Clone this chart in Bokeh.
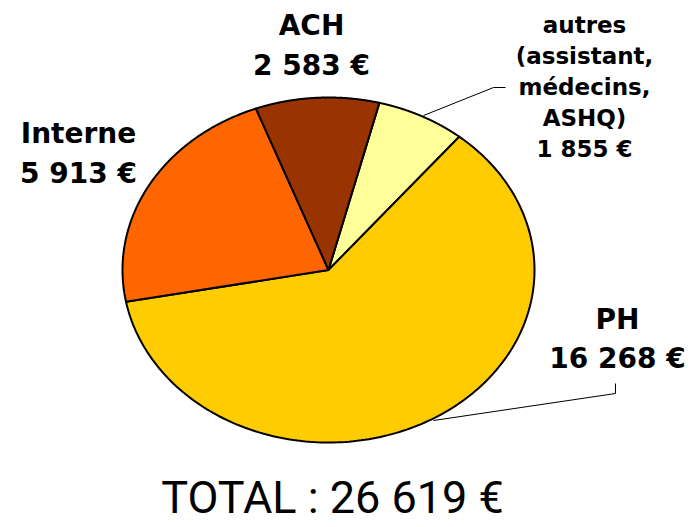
import numpy as np
from bokeh.plotting import figure
from bokeh.models import Range1d
from bokeh.core.properties import value
from bokeh.embed import file_html
from bokeh.resources import INLINE

# ---- data ----
categories = ["autres", "PH", "Interne", "ACH"]
amounts = [1855, 16268, 5913, 2583]
colors = ["#FFFF99", "#FFCC00", "#FF6600", "#993300"]
label_lines = {
    "ACH": ["ACH", "2 583 €"],
    "autres": ["autres", "(assistant,", "médecins,", "ASHQ)", "1 855 €"],
    "Interne": ["Interne", "5 913 €"],
    "PH": ["PH", "16 268 €"],
}
total_label = "TOTAL : 26 619 €"

# ---- layout (screen-pixel data space) ----
W, H = 692, 527
p = figure(width=W, height=H, output_backend="svg", toolbar_location=None,
           x_range=Range1d(0, W), y_range=Range1d(H, 0),
           min_border=0, outline_line_color=None)
p.axis.visible = False
p.grid.visible = False
p.background_fill_color = "white"

cx, cy, rx, ry = 328, 269.5, 206, 172.5
start_deg = 14.3  # clockwise from 12 o'clock

vals = np.array(amounts, dtype=float)
fr = vals / vals.sum()
bounds = start_deg + 360 * np.concatenate([[0], np.cumsum(fr)])
xs, ys = [], []
for i in range(len(vals)):
    a = np.radians(np.linspace(bounds[i], bounds[i + 1], 200))
    xs.append(np.concatenate([[cx], cx + rx * np.sin(a)]).tolist())
    ys.append(np.concatenate([[cy], cy - ry * np.cos(a)]).tolist())
p.patches(xs, ys, fill_color=colors, line_color="black", line_width=2)

bold = value("DejaVu Sans")
def draw_label(lines, x, y0, dy, size):
    p.text(x=[x] * len(lines), y=[y0 + dy * k for k in range(len(lines))], text=lines,
           text_font=bold, text_font_style="bold", text_font_size=size,
           text_align="center", text_baseline="middle", text_color="black")

draw_label(label_lines["ACH"], 311, 25, 40, "28px")
draw_label(label_lines["Interne"], 78, 133, 40, "28px")
draw_label(label_lines["PH"], 617, 319, 39, "28px")
draw_label(label_lines["autres"], 584, 24, 31, "23px")

# leader lines
p.line([423, 493, 505], [115, 87, 87], line_color="black", line_width=1)
p.line([433, 615, 615], [420, 393, 383], line_color="black", line_width=1)

p.text(x=[332], y=[497], text=[total_label],
       text_font=value("Roboto"), text_font_size="45px",
       text_align="center", text_baseline="middle", text_color="black")

open("out.html", "w").write(file_html(p, INLINE))
